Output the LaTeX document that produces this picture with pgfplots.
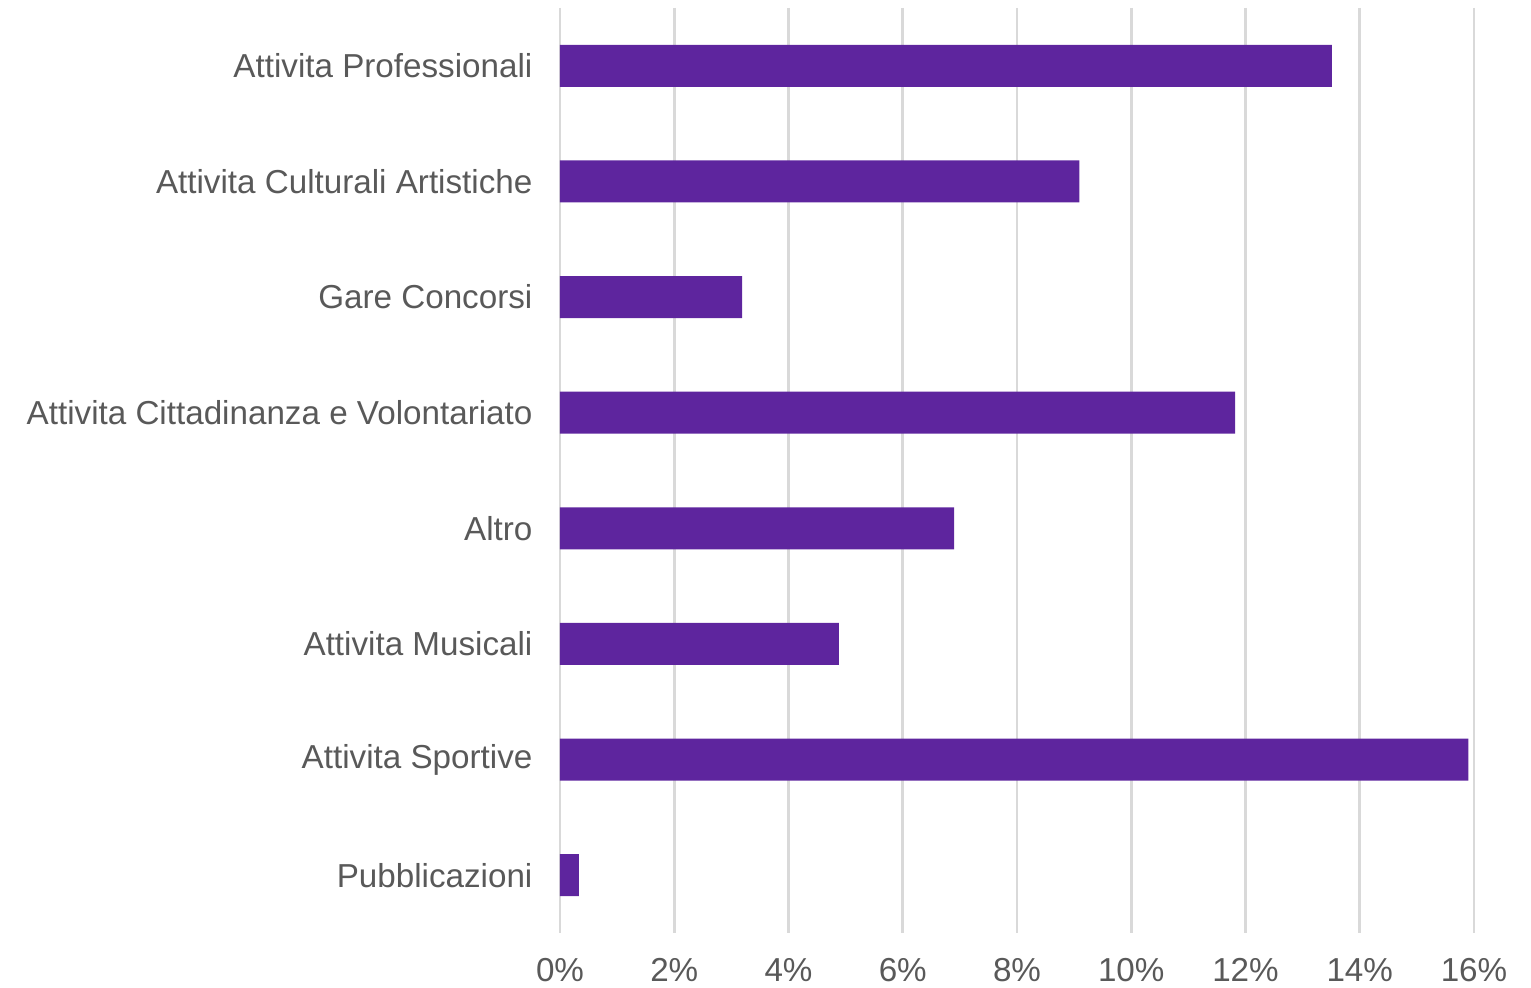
\documentclass[border=0pt]{standalone}
\usepackage{pgfplots}
\pgfplotsset{compat=1.18}
\usepackage{fontspec}
\setmainfont{Liberation Sans}
\definecolor{barc}{RGB}{94,37,158}
\definecolor{gridc}{RGB}{217,217,217}
\definecolor{txt}{RGB}{89,89,89}
\begin{document}
\begin{tikzpicture}
\begin{axis}[
  at={(0,0)}, anchor=south west,
  scale only axis,
  width=457pt, height=462.5pt,
  xbar, bar width=21pt,
  xmin=0, xmax=16,
  ymin=-0.5, ymax=7.5,
  y dir=reverse,
  xtick={0,2,...,16},
  xticklabel={\pgfmathprintnumber{\tick}\%},
  ytick={0,...,7},
  yticklabels={Attivita Professionali, Attivita Culturali Artistiche, Gare Concorsi, Attivita Cittadinanza e Volontariato, Altro, Attivita Musicali, Attivita Sportive, Pubblicazioni},
  /pgf/number format/assume math mode=true,
  tick style={draw=none},
  axis line style={draw=none},
  xmajorgrids, grid style={gridc, line width=1.4pt},
  ticklabel style={font=\fontsize{16.6}{19}\selectfont, text=txt},
  xticklabel style={yshift=-9pt},
  yticklabel style={xshift=-6pt},
]
\addplot[fill=barc, draw=none] coordinates {
(13.51,0) (9.09,1) (3.19,2) (11.82,3) (6.90,4) (4.88,5) (15.90,6) (0.33,7)
};
\end{axis}
\pgfresetboundingbox
\path (-280pt,-27.5pt) rectangle (485.5pt,466.5pt);
\end{tikzpicture}
\end{document}
